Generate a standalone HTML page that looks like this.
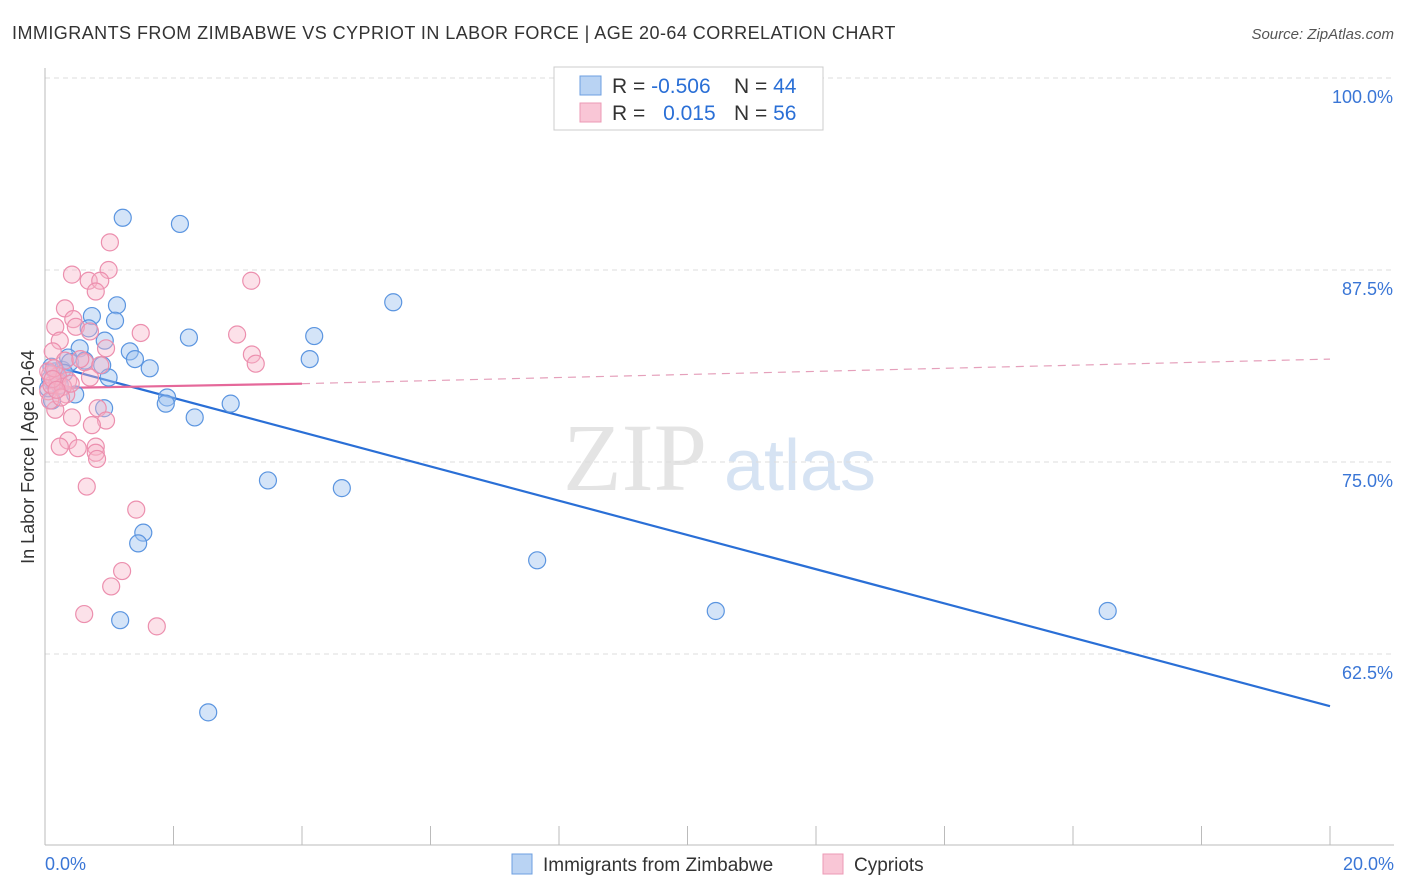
<!DOCTYPE html>
<html><head><meta charset="utf-8"><style>
body{margin:0;background:#fff;font-family:"Liberation Sans",sans-serif;}
#wrap{position:relative;width:1406px;height:892px;overflow:hidden;}
</style></head><body>
<div id="wrap">
<svg id="svg" width="1406" height="892" xmlns="http://www.w3.org/2000/svg">
<text x="12" y="39" font-size="18" fill="#333" letter-spacing="0.45">IMMIGRANTS FROM ZIMBABWE VS CYPRIOT IN LABOR FORCE | AGE 20-64 CORRELATION CHART</text>
<text x="1394" y="39" font-size="15" fill="#555" font-style="italic" text-anchor="end">Source: ZipAtlas.com</text>
<text x="34" y="457" font-size="18" fill="#333" text-anchor="middle" transform="rotate(-90 34 457)">In Labor Force | Age 20-64</text>
<g>
<text x="635" y="490" font-size="96" fill="#e4e4e4" font-family="Liberation Serif" text-anchor="middle">ZIP</text>
<text x="800" y="490" font-size="72" fill="#d6e3f3" text-anchor="middle">atlas</text>
</g>
<g id="grid"></g><g id="axes"></g><g id="trend"></g><g id="pts"></g>
<g>
<rect x="554" y="67" width="269" height="63" fill="#fff" stroke="#ccc"/>
<rect x="580" y="76" width="21" height="19" fill="#b9d3f3" stroke="#6d9fe0"/>
<rect x="580" y="103" width="21" height="19" fill="#f9c6d6" stroke="#ec9ab5"/>
<text x="612" y="93" font-size="21" fill="#333">R = <tspan fill="#2a6fd6">-0.506</tspan></text>
<text x="734" y="93" font-size="21" fill="#333">N = <tspan fill="#2a6fd6">44</tspan></text>
<text x="612" y="120" font-size="21" fill="#333">R = <tspan fill="#2a6fd6" dx="12">0.015</tspan></text>
<text x="734" y="120" font-size="21" fill="#333">N = <tspan fill="#2a6fd6">56</tspan></text>
</g>
<g>
<rect x="512" y="854" width="20" height="20" fill="#b9d3f3" stroke="#6d9fe0"/>
<text x="543" y="871" font-size="19" fill="#333">Immigrants from Zimbabwe</text>
<rect x="823" y="854" width="20" height="20" fill="#f9c6d6" stroke="#ec9ab5"/>
<text x="854" y="871" font-size="19" fill="#333">Cypriots</text>
</g>
</svg>
<script>
const yTicks=[100,87.5,75,62.5];
const yTickLabels=["100.0%","87.5%","75.0%","62.5%"];
const xEndLabels=["0.0%","20.0%"];
const blueX=[1.21,2.10,5.42,1.12,1.09,0.73,2.24,4.19,0.68,0.93,1.32,1.40,0.54,0.36,4.12,1.63,0.89,0.99,0.16,0.23,0.47,1.90,1.88,2.89,0.92,2.33,0.11,3.47,4.62,1.53,1.45,7.66,10.44,16.54,1.17,2.54,0.08,0.05,0.27,0.39,0.62,0.2,0.1,0.3];
const blueY=[90.9,90.5,85.4,85.2,84.2,84.5,83.1,83.2,83.7,82.9,82.2,81.7,82.4,81.8,81.7,81.1,81.3,80.5,80.9,80.0,79.4,79.2,78.8,78.8,78.5,77.9,79.0,73.8,73.3,70.4,69.7,68.6,65.3,65.3,64.7,58.7,80.4,79.8,81.0,81.5,81.6,80.3,81.2,80.8];
const pinkX=[1.01,0.99,0.42,0.68,0.86,3.21,0.79,0.31,0.44,0.16,0.48,1.49,2.99,0.70,0.23,0.95,3.22,3.28,0.12,0.31,0.62,0.86,0.08,0.19,0.36,0.70,0.05,0.33,0.16,0.82,0.42,0.95,0.73,0.36,0.23,0.51,0.79,0.79,0.81,0.65,1.42,1.20,1.03,0.61,1.74,0.08,0.1,0.2,0.28,0.05,0.14,0.4,0.55,0.25,0.12,0.18];
const pinkY=[89.3,87.5,87.2,86.8,86.8,86.8,86.1,85.0,84.3,83.8,83.8,83.4,83.3,83.5,82.9,82.4,82.0,81.4,82.2,81.6,81.5,81.3,80.7,80.2,80.3,80.5,79.6,79.4,78.4,78.5,77.9,77.7,77.4,76.4,76.0,75.9,76.0,75.6,75.2,73.4,71.9,67.9,66.9,65.1,64.3,79.0,80.0,80.6,79.9,80.9,81.1,80.1,81.7,79.2,80.4,79.7];
const blueTrend=[[0,81.4],[20,59.1]];
const pinkTrend=[[0,79.8],[4,80.1],[20,81.7]];
const NS="http://www.w3.org/2000/svg";
const X=v=>45+v/20*1285, Y=v=>78+(100-v)/12.5*192;
function mk(tag,attrs,parent){const e=document.createElementNS(NS,tag);for(const k in attrs)e.setAttribute(k,attrs[k]);document.getElementById(parent).appendChild(e);return e;}
yTicks.forEach((t,i)=>{
 const g=mk('line',{x1:45,x2:1394,y1:Y(t),y2:Y(t),stroke:'#ddd','stroke-dasharray':'5,4'},'grid');
 
 
 const l=mk('text',{x:1393,y:Y(t)+25,'font-size':18,fill:'#3a76d6','text-anchor':'end'},'grid');
 l.textContent=yTickLabels[i];
 
 
});
const ax=mk('line',{x1:45,x2:45,y1:68,y2:845,stroke:'#bbb'},'axes');


const bx=mk('line',{x1:45,x2:1394,y1:845,y2:845,stroke:'#bbb'},'axes');


for(let i=0;i<=10;i++){
 const t=mk('line',{x1:X(i*2),x2:X(i*2),y1:826,y2:845,stroke:'#bbb'},'axes');
 
 
}
[[0,'start',45],[20,'end',1394]].forEach((d,i)=>{
 const l=mk('text',{x:d[2],y:870,'font-size':18,fill:'#3a76d6','text-anchor':d[1]},'axes');
 l.textContent=xEndLabels[i];
 
 
});
blueX.forEach((x,i)=>{
 const c=mk('circle',{cx:X(x),cy:Y(blueY[i]),r:8.5,fill:'rgba(160,196,240,0.45)',stroke:'#5b95e0','stroke-width':1.2},'pts');
 
 
});
pinkX.forEach((x,i)=>{
 const c=mk('circle',{cx:X(x),cy:Y(pinkY[i]),r:8.5,fill:'rgba(248,180,200,0.4)',stroke:'#ec8fae','stroke-width':1.2},'pts');
 
 
});
const bt=mk('line',{x1:X(blueTrend[0][0]),y1:Y(blueTrend[0][1]),x2:X(blueTrend[1][0]),y2:Y(blueTrend[1][1]),stroke:'#2a6fd6','stroke-width':2.2},'trend');


const pt=mk('line',{x1:X(pinkTrend[0][0]),y1:Y(pinkTrend[0][1]),x2:X(pinkTrend[1][0]),y2:Y(pinkTrend[1][1]),stroke:'#e5689a','stroke-width':2.2},'trend');


const pd=mk('line',{x1:X(pinkTrend[1][0]),y1:Y(pinkTrend[1][1]),x2:X(pinkTrend[2][0]),y2:Y(pinkTrend[2][1]),stroke:'#e5a0bb','stroke-width':1.2,'stroke-dasharray':'8,6'},'trend');


</script>
</div>
</body></html>
